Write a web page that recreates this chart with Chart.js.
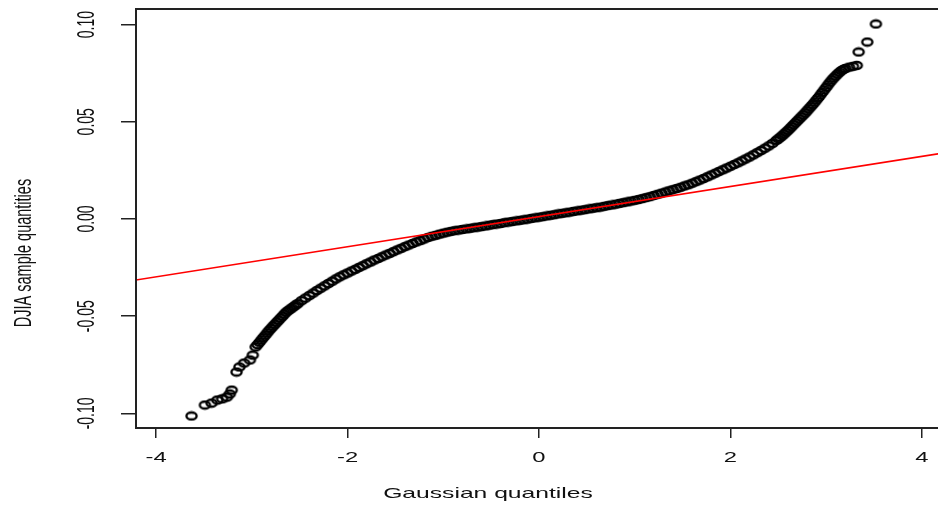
<!DOCTYPE html>
<html>
<head>
<meta charset="utf-8">
<title>DJIA QQ plot</title>
<script src="https://cdn.jsdelivr.net/npm/chart.js@4.4.1/dist/chart.umd.min.js"></script>
<style>
  html, body { margin: 0; padding: 0; background: #fff; overflow: hidden; }
  canvas { display: block; }
</style>
</head>
<body>
<canvas id="qq" width="946" height="508"></canvas>
<script>
// gaussian quantiles (x) and DJIA sample quantiles (y)
const qx = [
  -3.63, -3.49, -3.42, -3.36, -3.31, -3.26, -3.23, -3.21, -3.16, -3.13, -3.08, -3.02, -2.99,
  -2.96, -2.94, -2.92, -2.90, -2.88, -2.86, -2.84, -2.82, -2.80, -2.78,
  -2.76, -2.74, -2.72, -2.70, -2.68, -2.66, -2.64, -2.62, -2.60, -2.58,
  -2.56, -2.54, -2.52,
  -2.48, -2.44, -2.40, -2.36, -2.32, -2.28, -2.24, -2.20, -2.16, -2.12,
  -2.08, -2.04, -2.00, -1.96, -1.92, -1.88, -1.84, -1.80, -1.76, -1.72,
  -1.68, -1.64, -1.60, -1.56, -1.52, -1.48, -1.44, -1.40, -1.36, -1.32,
  -1.28, -1.24, -1.20, -1.16, -1.12, -1.08, -1.04, -1.00, -0.96, -0.92,
  -0.88, -0.84, -0.80, -0.76, -0.72, -0.68, -0.64, -0.60, -0.56, -0.52,
  -0.48, -0.44, -0.40, -0.36, -0.32, -0.28, -0.24, -0.20, -0.16, -0.12,
  -0.08, -0.04, 0.00, 0.04, 0.08, 0.12, 0.16, 0.20, 0.24, 0.28,
  0.32, 0.36, 0.40, 0.44, 0.48, 0.52, 0.56, 0.60, 0.64, 0.68,
  0.72, 0.76, 0.80, 0.84, 0.88, 0.92, 0.96, 1.00, 1.04, 1.08,
  1.12, 1.16, 1.20, 1.24, 1.28, 1.32, 1.36, 1.40, 1.44, 1.48,
  1.52, 1.56, 1.60, 1.64, 1.68, 1.72, 1.76, 1.80, 1.84, 1.88,
  1.92, 1.96, 2.00, 2.04, 2.08, 2.12, 2.16, 2.20, 2.24, 2.28,
  2.32, 2.36, 2.40, 2.44,
  2.48, 2.50, 2.52, 2.54, 2.56, 2.58, 2.60, 2.62, 2.64, 2.66,
  2.68, 2.70, 2.72, 2.74, 2.76, 2.78, 2.80, 2.82, 2.84, 2.86,
  2.88, 2.90, 2.92, 2.94, 2.96, 2.98, 3.00, 3.02, 3.04, 3.06,
  3.08, 3.10, 3.12, 3.14, 3.16, 3.18, 3.20, 3.24, 3.28, 3.32,
  3.34, 3.43, 3.52
];
const qy = [
  -0.1013, -0.0957, -0.0947, -0.0931, -0.0925, -0.0916, -0.0900, -0.0880, -0.0787, -0.0761, -0.0741, -0.0725, -0.0700,
  -0.0658, -0.0646, -0.0634, -0.0622, -0.0610, -0.0598, -0.0586, -0.0574, -0.0563, -0.0552,
  -0.0542, -0.0531, -0.0521, -0.0510, -0.0500, -0.0489, -0.0479, -0.0471, -0.0464, -0.0457,
  -0.0450, -0.0442, -0.0435,
  -0.0420, -0.0407, -0.0394, -0.0381, -0.0368, -0.0356, -0.0344, -0.0332, -0.0320, -0.0308,
  -0.0297, -0.0287, -0.0278, -0.0268, -0.0259, -0.0249, -0.0240, -0.0230, -0.0221, -0.0211,
  -0.0203, -0.0194, -0.0185, -0.0177, -0.0168, -0.0159, -0.0151, -0.0142, -0.0134, -0.0126,
  -0.0118, -0.0111, -0.0103, -0.0095, -0.0089, -0.0084, -0.0078, -0.0073, -0.0068, -0.0064,
  -0.0060, -0.0057, -0.0054, -0.0051, -0.0048, -0.0045, -0.0042, -0.0039, -0.0036, -0.0032,
  -0.0029, -0.0026, -0.0023, -0.0019, -0.0016, -0.0013, -0.0010, -0.0007, -0.0004, -0.0001,
  0.0003, 0.0006, 0.0009, 0.0012, 0.0016, 0.0019, 0.0022, 0.0026, 0.0029, 0.0032,
  0.0035, 0.0039, 0.0042, 0.0045, 0.0048, 0.0052, 0.0055, 0.0058, 0.0061, 0.0065,
  0.0069, 0.0072, 0.0076, 0.0080, 0.0084, 0.0088, 0.0092, 0.0096, 0.0100, 0.0105,
  0.0110, 0.0115, 0.0121, 0.0127, 0.0133, 0.0139, 0.0145, 0.0151, 0.0157, 0.0163,
  0.0170, 0.0176, 0.0184, 0.0192, 0.0200, 0.0208, 0.0217, 0.0226, 0.0235, 0.0244,
  0.0253, 0.0262, 0.0271, 0.0280, 0.0289, 0.0299, 0.0309, 0.0319, 0.0330, 0.0341,
  0.0352, 0.0364, 0.0376, 0.0389,
  0.0404, 0.0412, 0.0420, 0.0428, 0.0437, 0.0446, 0.0455, 0.0465, 0.0475, 0.0485,
  0.0495, 0.0505, 0.0515, 0.0525, 0.0535, 0.0545, 0.0556, 0.0567, 0.0578, 0.0589,
  0.0601, 0.0613, 0.0625, 0.0638, 0.0651, 0.0664, 0.0677, 0.0690, 0.0703, 0.0715,
  0.0726, 0.0736, 0.0746, 0.0755, 0.0763, 0.0769, 0.0774, 0.0781, 0.0785, 0.0790,
  0.0859, 0.0910, 0.1003
];

// reference line (qqline), two end points past the plot box
const lineX = [-4.3, 4.3];
const lineY = [-0.0321, 0.0345];

const xTicks = [-4, -2, 0, 2, 4];
const xTickLabels = ["-4", "-2", "0", "2", "4"];
const yTicks = [-0.10, -0.05, 0.00, 0.05, 0.10];
const yTickLabels = ["-0.10", "-0.05", "0.00", "0.05", "0.10"];
const xTitle = "Gaussian quantiles";
const yTitle = "DJIA sample quantities";

// the picture is stretched sideways, so text is drawn wider than it is tall
const SX = 1.7;
const FONT = '"Liberation Sans", Arial, sans-serif';

function stretchText(ctx, txt, x, y, rot) {
  ctx.save();
  ctx.translate(x, y);
  ctx.scale(SX, 1);
  ctx.rotate(rot);
  ctx.textAlign = "center";
  ctx.textBaseline = "middle";
  ctx.fillText(txt, 0, 0);
  ctx.restore();
}

// open ring, wider than tall like the reference
const ring = document.createElement("canvas");
ring.width = 15;
ring.height = 11;
const rc = ring.getContext("2d");
rc.strokeStyle = "#000";
rc.lineWidth = 2.3;
rc.beginPath();
rc.ellipse(7.5, 5.5, 5.1, 3.5, 0, 0, Math.PI * 2);
rc.stroke();

const rStyle = {
  id: "rStyle",
  afterDraw(chart) {
    const { ctx, chartArea: a, scales } = chart;
    ctx.save();
    ctx.strokeStyle = "#222";
    ctx.lineWidth = 2;
    ctx.strokeRect(a.left, a.top, a.right - a.left, a.bottom - a.top);

    ctx.fillStyle = "#111";
    ctx.font = "14px " + FONT;
    xTicks.forEach((v, i) => {
      stretchText(ctx, xTickLabels[i], scales.x.getPixelForValue(v), 458, 0);
    });
    yTicks.forEach((v, i) => {
      stretchText(ctx, yTickLabels[i], 87, scales.y.getPixelForValue(v), -Math.PI / 2);
    });

    ctx.font = "14.5px " + FONT;
    stretchText(ctx, xTitle, 488, 494, 0);
    stretchText(ctx, yTitle, 24, 253, -Math.PI / 2);
    ctx.restore();
  }
};

const points = qx.map((x, i) => ({ x: x, y: qy[i] }));
const linePts = lineX.map((x, i) => ({ x: x, y: lineY[i] }));

new Chart(document.getElementById("qq"), {
  type: "scatter",
  data: {
    datasets: [
      {
        label: "qqline",
        data: linePts,
        showLine: true,
        borderColor: "#ff0000",
        borderWidth: 1.6,
        pointRadius: 0,
        order: 0
      },
      {
        label: "DJIA",
        data: points,
        pointStyle: ring,
        pointRadius: 4,
        order: 1
      }
    ]
  },
  options: {
    responsive: false,
    animation: false,
    layout: { padding: { top: 9, right: 3, left: 0, bottom: 0 } },
    plugins: {
      legend: { display: false },
      tooltip: { enabled: false }
    },
    scales: {
      x: {
        type: "linear",
        min: -4.21,
        max: 4.2,
        afterBuildTicks: (s) => { s.ticks = xTicks.map((v) => ({ value: v })); },
        afterFit: (s) => { s.height = 80; },
        ticks: { display: false },
        border: { display: false },
        grid: { drawOnChartArea: false, drawTicks: true, tickLength: 10, color: "#222", lineWidth: 1.5 }
      },
      y: {
        type: "linear",
        min: -0.1075,
        max: 0.108,
        afterBuildTicks: (s) => { s.ticks = yTicks.map((v) => ({ value: v })); },
        afterFit: (s) => { s.width = 136; },
        ticks: { display: false },
        border: { display: false },
        grid: { drawOnChartArea: false, drawTicks: true, tickLength: 15, color: "#222", lineWidth: 1.5 }
      }
    }
  },
  plugins: [rStyle]
});
</script>
</body>
</html>
